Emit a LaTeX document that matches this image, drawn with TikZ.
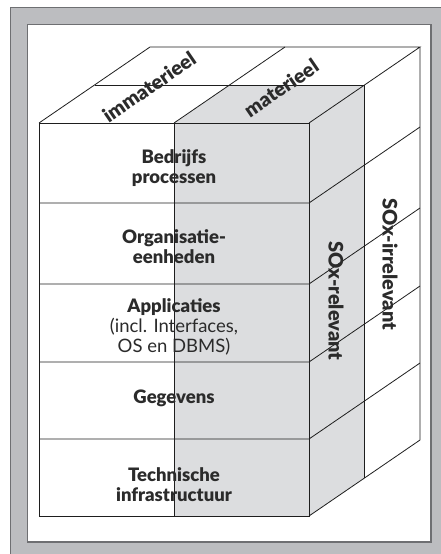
\documentclass[tikz,border=0pt]{standalone}
\usepackage{fontspec}
\setmainfont{Lato}[BoldFont={Lato Black}]
\definecolor{framegray}{HTML}{BCBDC0}
\definecolor{frameline}{HTML}{6E6F72}
\definecolor{cubegray}{HTML}{DCDDDF}
\definecolor{edge}{HTML}{1E1E1E}
\definecolor{ink}{HTML}{2B2B2B}
\tikzset{
  cubeline/.style={draw=edge, line width=0.8pt, line join=miter},
  layertext/.style={text=ink, align=center, font=\fontsize{18.5}{20}\selectfont\bfseries, inner sep=0pt},
  sidetext/.style={text=ink, font=\fontsize{20}{22}\selectfont\bfseries, inner sep=0pt},
}
\begin{document}
\begin{tikzpicture}[x=1pt,y=-1pt]
\useasboundingbox (0,0) rectangle (441,554);
% frame
\fill[white] (0,0) rectangle (441,554);
\fill[framegray] (10,7) rectangle (441,554);
\draw[frameline, line width=0.8pt] (10,554) -- (10,7) -- (441,7);
\fill[white] (27,24) rectangle (431,542);
\draw[frameline, line width=1pt] (27,24) rectangle (431,542);
\draw[frameline, line width=1.6pt] (431,24) -- (431,542) -- (27,542);

% cube geometry: front face x 39..309, y 123..516; depth vector (111,-76)
\coordinate (fl) at (39,123);
\coordinate (fr) at (309,123);
\coordinate (fm) at (174,123);
\coordinate (bl) at (39,516);
\coordinate (br) at (309,516);
\coordinate (bm) at (174,516);

% shaded SOx-relevant block (front half of the right part)
\fill[cubegray] (174,123) -- (229.5,85) -- (364.5,85) -- (364.5,478) -- (309,516) -- (174,516) -- cycle;

% front face and layers
\draw[cubeline] (fl) rectangle (br);
\draw[cubeline] (fm) -- (bm);
\foreach \y in {203,284,362,439} {
  \draw[cubeline] (39,\y) -- (309,\y) -- ++(111,-76);
}
% top face
\draw[cubeline] (fl) -- ++(111,-76) -- ++(270,0) -- (fr);
\draw[cubeline] (fm) -- ++(111,-76);
\draw[cubeline] (94.5,85) -- (364.5,85);
% right face
\draw[cubeline] (364.5,85) -- (364.5,478);
\draw[cubeline] (420,47) -- (420,440) -- (br);

% layer labels
\node[layertext] (bp) at (174,168) {Bedrijfs\\processen};
\node[layertext] (oe) at (174,247) {Organisatie-\\eenheden};
\node[layertext] (ap) at (174,327) {Applicaties\\{\mdseries(incl. Interfaces,}\\{\mdseries OS en DBMS)}};
\node[layertext] (ge) at (174,398) {Gegevens};
\node[layertext] (ti) at (174,485) {Technische\\infrastructuur};

% top labels
\node[sidetext, rotate=34.4] (imm) at (149,87) {immaterieel};
\node[sidetext, rotate=34.4] (mat) at (281,88) {materieel};
% side labels
\node[sidetext, rotate=-90] (rel) at (336,301) {SOx-relevant};
\node[sidetext, rotate=-90] (irr) at (390,264) {SOx-irrelevant};
\end{tikzpicture}
\end{document}
